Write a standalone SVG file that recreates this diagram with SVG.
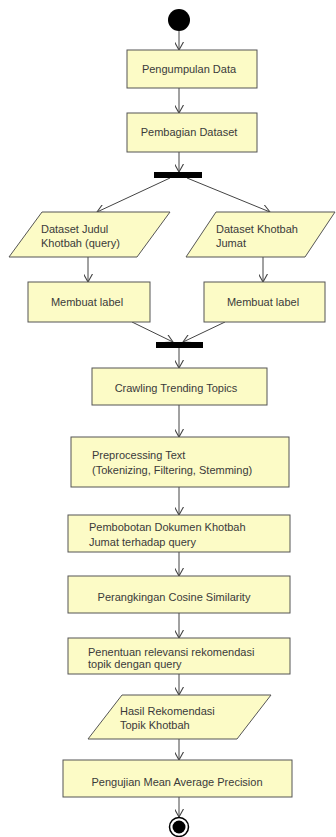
<svg xmlns="http://www.w3.org/2000/svg" width="336" height="837" viewBox="0 0 336 837">
<defs>
<style>
.box{fill:#fcfbc6;stroke:#555;stroke-width:1}
.t{font-family:"Liberation Sans",Arial,sans-serif;font-size:11px;fill:#3a3a3a}
.c{text-anchor:middle}
.ln{stroke:#444;stroke-width:1;fill:none}
.bar{fill:#000}
</style>
<marker id="arr" viewBox="0 0 10 10" refX="9" refY="5" markerWidth="9" markerHeight="9" markerUnits="userSpaceOnUse" orient="auto">
<path d="M0,0 L9,5 L0,10" fill="none" stroke="#444" stroke-width="1.2"/>
</marker>
</defs>
<rect width="336" height="837" fill="#fff"/>
<g id="connectors">
<line class="ln" x1="179" y1="31" x2="179" y2="50" marker-end="url(#arr)"/>
<line class="ln" x1="179" y1="88" x2="179" y2="113" marker-end="url(#arr)"/>
<line class="ln" x1="179" y1="152" x2="179" y2="172" marker-end="url(#arr)"/>
<line class="ln" x1="170" y1="178" x2="97" y2="212" marker-end="url(#arr)"/>
<line class="ln" x1="187" y1="178" x2="270" y2="212" marker-end="url(#arr)"/>
<line class="ln" x1="88" y1="257" x2="88" y2="282" marker-end="url(#arr)"/>
<line class="ln" x1="263" y1="257" x2="263" y2="282" marker-end="url(#arr)"/>
<line class="ln" x1="132" y1="322" x2="173" y2="342" marker-end="url(#arr)"/>
<line class="ln" x1="225" y1="322" x2="183" y2="342" marker-end="url(#arr)"/>
<line class="ln" x1="179" y1="348" x2="179" y2="368" marker-end="url(#arr)"/>
<line class="ln" x1="179" y1="405" x2="179" y2="437" marker-end="url(#arr)"/>
<line class="ln" x1="179" y1="487" x2="179" y2="515" marker-end="url(#arr)"/>
<line class="ln" x1="179" y1="552" x2="179" y2="576" marker-end="url(#arr)"/>
<line class="ln" x1="179" y1="613" x2="179" y2="638" marker-end="url(#arr)"/>
<line class="ln" x1="179" y1="674" x2="179" y2="695" marker-end="url(#arr)"/>
<line class="ln" x1="179" y1="739" x2="179" y2="760" marker-end="url(#arr)"/>
<line class="ln" x1="179" y1="797" x2="179" y2="817" marker-end="url(#arr)"/>
</g>
<g id="start"><circle cx="179" cy="20" r="11" fill="#000"/></g>
<g id="pengumpulan"><rect class="box" x="127" y="50" width="130" height="38"/><text class="t c" x="189" y="73">Pengumpulan Data</text></g>
<g id="pembagian"><rect class="box" x="127" y="113" width="130" height="39"/><text class="t c" x="189" y="136">Pembagian Dataset</text></g>
<g id="fork"><rect class="bar" x="154" y="172" width="48" height="6"/></g>
<g id="datasetJudul"><polygon class="box" points="42,212 170,212 137,257 9,257"/><text class="t" x="41" y="233">Dataset Judul</text><text class="t" x="41" y="247">Khotbah (query)</text></g>
<g id="datasetKhotbah"><polygon class="box" points="216,212 335,212 305,257 186,257"/><text class="t" x="216" y="233">Dataset Khotbah</text><text class="t" x="216" y="247">Jumat</text></g>
<g id="labelKiri"><rect class="box" x="28" y="282" width="122" height="40"/><text class="t c" x="87" y="306">Membuat label</text></g>
<g id="labelKanan"><rect class="box" x="204" y="282" width="121" height="40"/><text class="t c" x="263" y="306">Membuat label</text></g>
<g id="join"><rect class="bar" x="156" y="342" width="47" height="6"/></g>
<g id="crawling"><rect class="box" x="92" y="368" width="175" height="37"/><text class="t c" x="176" y="392">Crawling Trending Topics</text></g>
<g id="preprocessing"><rect class="box" x="71" y="437" width="218" height="50"/><text class="t" x="92" y="459">Preprocessing Text</text><text class="t" x="92" y="474">(Tokenizing, Filtering, Stemming)</text></g>
<g id="pembobotan"><rect class="box" x="68" y="515" width="222" height="37"/><text class="t" x="89" y="531">Pembobotan Dokumen Khotbah</text><text class="t" x="89" y="546">Jumat terhadap query</text></g>
<g id="perangkingan"><rect class="box" x="68" y="576" width="222" height="37"/><text class="t c" x="174" y="601">Perangkingan Cosine Similarity</text></g>
<g id="penentuan"><rect class="box" x="68" y="638" width="222" height="36"/><text class="t" x="88" y="656">Penentuan relevansi rekomendasi</text><text class="t" x="88" y="668">topik dengan query</text></g>
<g id="hasil"><polygon class="box" points="122,695 271,695 237,739 88,739"/><text class="t" x="120" y="715">Hasil Rekomendasi</text><text class="t" x="120" y="729">Topik Khotbah</text></g>
<g id="pengujian"><rect class="box" x="63" y="760" width="229" height="37"/><text class="t c" x="177" y="786">Pengujian Mean Average Precision</text></g>
<g id="end"><circle cx="179" cy="827" r="9.5" fill="#fff" stroke="#000" stroke-width="1.5"/><circle cx="179" cy="827" r="6.5" fill="#000"/></g>
</svg>
